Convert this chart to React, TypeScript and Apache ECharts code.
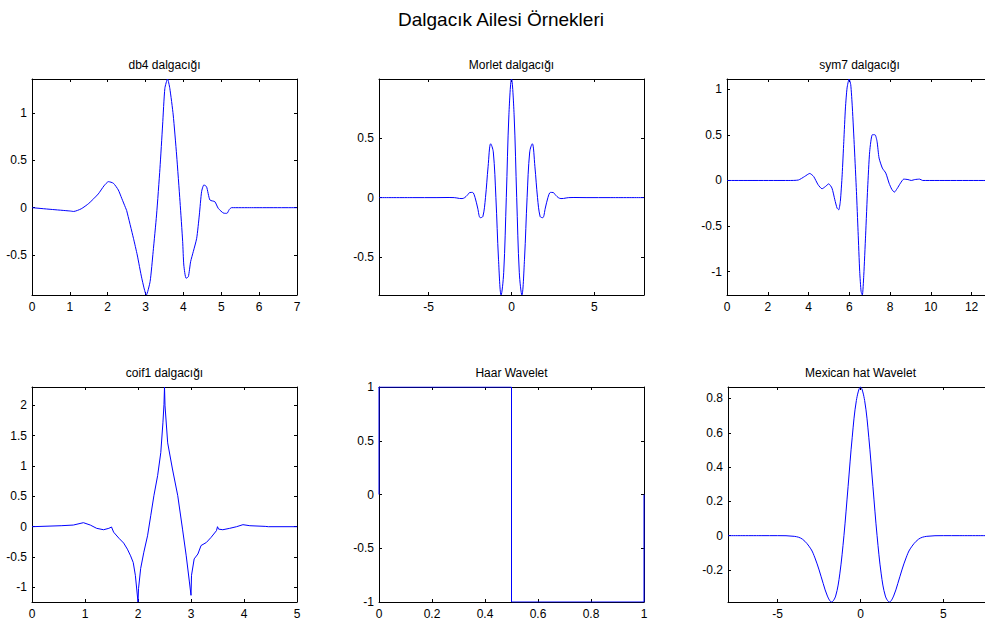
import React, { useEffect, useRef } from "react";
import * as echarts from "echarts";

const FONT = '"Liberation Sans", Arial, Helvetica, sans-serif';

// ---------- data ----------
const mainTitle = "Dalgacık Ailesi Örnekleri";

const db4Title = "db4 dalgacığı";
const db4X = [0, 0.5, 1.0, 1.1, 1.3, 1.5, 1.75, 1.9, 2.02, 2.15, 2.28, 2.37, 2.47, 2.5, 2.68, 2.78, 2.9, 3.02, 3.12, 3.2, 3.29, 3.38, 3.45, 3.51, 3.58, 3.64, 3.73, 3.82, 3.91, 3.98, 4.01, 4.07, 4.13, 4.19, 4.26, 4.35, 4.42, 4.48, 4.54, 4.61, 4.7, 4.83, 4.92, 5.07, 5.15, 5.21, 5.27, 5.8, 7.0];
const db4Y = [0, -0.018, -0.035, -0.04, -0.012, 0.045, 0.145, 0.23, 0.275, 0.258, 0.187, 0.099, 0, -0.03, -0.324, -0.5, -0.746, -0.923, -0.78, -0.465, -0.077, 0.416, 0.874, 1.262, 1.36, 1.262, 0.98, 0.557, 0.063, -0.359, -0.606, -0.746, -0.729, -0.571, -0.465, -0.324, -0.077, 0.169, 0.24, 0.222, 0.081, 0.063, -0.007, -0.059, -0.06, -0.02, 0, 0, 0];
const db4XTicks = [0, 1, 2, 3, 4, 5, 6, 7];
const db4YTicks = [-0.5, 0, 0.5, 1];

const morletTitle = "Morlet dalgacığı";
const morletX = [-8, -6, -4.5, -3.77, -3.456, -3.299, -3.142, -2.985, -2.827, -2.67, -2.513, -2.356, -2.199, -2.042, -1.885, -1.728, -1.571, -1.414, -1.257, -1.1, -0.942, -0.785, -0.628, -0.471, -0.314, -0.157, 0, 0.157, 0.314, 0.471, 0.628, 0.785, 0.942, 1.1, 1.257, 1.414, 1.571, 1.728, 1.885, 2.042, 2.199, 2.356, 2.513, 2.67, 2.827, 2.985, 3.142, 3.299, 3.456, 3.77, 4.5, 6, 8];
const morletY = [0, 0, 0, 0.001, 0, -0.003, -0.007, -0.008, 0, 0.02, 0.043, 0.044, 0, -0.088, -0.169, -0.159, 0, 0.26, 0.454, 0.386, 0, -0.519, -0.821, -0.633, 0, 0.698, 1, 0.698, 0, -0.633, -0.821, -0.519, 0, 0.386, 0.454, 0.26, 0, -0.159, -0.169, -0.088, 0, 0.044, 0.043, 0.02, 0, -0.008, -0.007, -0.003, 0, 0.001, 0, 0, 0];
const morletXTicks = [-5, 0, 5];
const morletYTicks = [-0.5, 0, 0.5];

const sym7Title = "sym7 dalgacığı";
const sym7X = [0, 3.0, 3.5, 3.81, 4.06, 4.25, 4.47, 4.66, 4.83, 4.99, 5.15, 5.29, 5.4, 5.48, 5.56, 5.65, 5.73, 5.81, 5.89, 5.99, 6.07, 6.15, 6.25, 6.35, 6.43, 6.51, 6.58, 6.64, 6.71, 6.8, 6.9, 7.0, 7.13, 7.26, 7.36, 7.46, 7.62, 7.79, 7.95, 8.08, 8.21, 8.34, 8.51, 8.67, 8.88, 9.04, 9.21, 9.45, 9.6, 13];
const sym7Y = [0, 0, 0.005, 0.044, 0.077, 0.044, -0.047, -0.091, -0.066, -0.037, -0.084, -0.212, -0.303, -0.322, -0.23, 0.063, 0.429, 0.795, 1.015, 1.113, 1.051, 0.795, 0.356, -0.121, -0.56, -1.0, -1.22, -1.256, -1.04, -0.6, -0.084, 0.319, 0.502, 0.502, 0.429, 0.246, 0.136, 0.081, -0.029, -0.095, -0.128, -0.091, -0.029, 0.015, 0.01, 0, 0.01, 0.015, 0, 0];
const sym7XTicks = [0, 2, 4, 6, 8, 10, 12];
const sym7YTicks = [-1, -0.5, 0, 0.5, 1];

const coif1Title = "coif1 dalgacığı";
const coif1X = [0, 0.55, 0.78, 0.97, 1.1, 1.22, 1.35, 1.45, 1.5, 1.54, 1.64, 1.73, 1.8, 1.86, 1.91, 1.95, 2.0, 2.01, 2.05, 2.11, 2.18, 2.24, 2.3, 2.37, 2.43, 2.47, 2.49, 2.5, 2.51, 2.56, 2.65, 2.75, 2.84, 2.91, 2.97, 3.0, 3.01, 3.06, 3.13, 3.19, 3.29, 3.38, 3.48, 3.5, 3.52, 3.6, 3.73, 3.86, 3.98, 4.11, 4.4, 4.46, 5];
const coif1Y = [0, 0.016, 0.027, 0.066, 0.027, -0.027, -0.05, -0.027, -0.005, -0.09, -0.19, -0.27, -0.37, -0.48, -0.59, -0.8, -1.24, -1.02, -0.69, -0.42, -0.15, 0.18, 0.51, 0.84, 1.22, 1.71, 2.01, 2.3, 1.99, 1.38, 0.95, 0.51, -0.04, -0.48, -0.91, -1.13, -0.8, -0.53, -0.45, -0.31, -0.26, -0.175, -0.066, 0, -0.04, -0.05, -0.027, 0, 0.033, 0.016, 0.005, 0, 0];
const coif1XTicks = [0, 1, 2, 3, 4, 5];
const coif1YTicks = [-1, -0.5, 0, 0.5, 1, 1.5, 2];

const haarTitle = "Haar Wavelet";
const haarX = [0, 0, 0.5, 0.5, 1, 1];
const haarY = [0, 1, 1, -1, -1, 0];
const haarXTicks = [0, 0.2, 0.4, 0.6, 0.8, 1];
const haarYTicks = [-1, -0.5, 0, 0.5, 1];

const mexhTitle = "Mexican hat Wavelet";
const mexhX = [-8, -6, -5, -4, -3.5, -3, -2.75, -2.5, -2.25, -2, -1.75, -1.5, -1.25, -1, -0.75, -0.5, -0.25, 0, 0.25, 0.5, 0.75, 1, 1.25, 1.5, 1.75, 2, 2.25, 2.5, 2.75, 3, 3.5, 4, 5, 6, 8];
const mexhY = [0, 0, 0, -0.004, -0.021, -0.077, -0.13, -0.2, -0.28, -0.352, -0.387, -0.352, -0.223, 0, 0.286, 0.574, 0.788, 0.867, 0.788, 0.574, 0.286, 0, -0.223, -0.352, -0.387, -0.352, -0.28, -0.2, -0.13, -0.077, -0.021, -0.004, 0, 0, 0];
const mexhXTicks = [-5, 0, 5];
const mexhYTicks = [-0.2, 0, 0.2, 0.4, 0.6, 0.8];

// ---------- layout ----------
type Panel = {
  title: string;
  xs: number[];
  ys: number[];
  xMin: number;
  xMax: number;
  yMin: number;
  yMax: number;
  xTicks: number[];
  yTicks: number[];
  left: number;
  top: number;
  width: number;
  height: number;
  smooth: number | boolean;
};

const panels: Panel[] = [
  { title: db4Title, xs: db4X, ys: db4Y, xMin: 0, xMax: 7, yMin: -0.923, yMax: 1.36, xTicks: db4XTicks, yTicks: db4YTicks, left: 32, top: 79, width: 265, height: 216, smooth: 0.2 },
  { title: morletTitle, xs: morletX, ys: morletY, xMin: -8, xMax: 8, yMin: -0.821, yMax: 1.0, xTicks: morletXTicks, yTicks: morletYTicks, left: 379, top: 79, width: 265, height: 216, smooth: 0.35 },
  { title: sym7Title, xs: sym7X, ys: sym7Y, xMin: 0, xMax: 13, yMin: -1.256, yMax: 1.113, xTicks: sym7XTicks, yTicks: sym7YTicks, left: 727, top: 79, width: 265, height: 216, smooth: 0.2 },
  { title: coif1Title, xs: coif1X, ys: coif1Y, xMin: 0, xMax: 5, yMin: -1.24, yMax: 2.3, xTicks: coif1XTicks, yTicks: coif1YTicks, left: 32, top: 387, width: 265, height: 215, smooth: false },
  { title: haarTitle, xs: haarX, ys: haarY, xMin: 0, xMax: 1, yMin: -1, yMax: 1, xTicks: haarXTicks, yTicks: haarYTicks, left: 379, top: 387, width: 265, height: 215, smooth: false },
  { title: mexhTitle, xs: mexhX, ys: mexhY, xMin: -8, xMax: 8, yMin: -0.387, yMax: 0.867, xTicks: mexhXTicks, yTicks: mexhYTicks, left: 728, top: 387, width: 265, height: 215, smooth: 0.35 },
];

function buildOption() {
  const grid: any[] = [];
  const xAxis: any[] = [];
  const yAxis: any[] = [];
  const series: any[] = [];
  const graphic: any[] = [];

  const lineStyle = { color: "#000", width: 1 };
  const labelStyle = { color: "#000", fontSize: 12, fontFamily: FONT };
  const fmt = (v: number) => String(v);

  graphic.push({
    type: "text",
    x: 501,
    y: 19,
    style: { text: mainTitle, fill: "#000", font: `19px ${FONT}`, align: "center", verticalAlign: "middle" },
  });

  panels.forEach((p, i) => {
    grid.push({ left: p.left, top: p.top, width: p.width, height: p.height, containLabel: false, outerBoundsMode: "none", show: false });

    const xBase = { type: "value", gridIndex: i, min: p.xMin, max: p.xMax, splitLine: { show: false } };
    const yBase = { type: "value", gridIndex: i, min: p.yMin, max: p.yMax, splitLine: { show: false } };

    xAxis.push({
      ...xBase,
      position: "bottom",
      axisLine: { show: true, onZero: false, lineStyle },
      axisTick: { show: true, inside: true, length: 3, lineStyle, customValues: p.xTicks },
      axisLabel: { show: true, margin: 6, customValues: p.xTicks, formatter: fmt, ...labelStyle },
    });
    xAxis.push({
      ...xBase,
      position: "top",
      axisLine: { show: true, onZero: false, lineStyle },
      axisTick: { show: true, inside: true, length: 3, lineStyle, customValues: p.xTicks },
      axisLabel: { show: false },
    });
    yAxis.push({
      ...yBase,
      position: "left",
      axisLine: { show: true, onZero: false, lineStyle },
      axisTick: { show: true, inside: true, length: 3, lineStyle, customValues: p.yTicks },
      axisLabel: { show: true, margin: 5, customValues: p.yTicks, formatter: fmt, ...labelStyle },
    });
    yAxis.push({
      ...yBase,
      position: "right",
      axisLine: { show: true, onZero: false, lineStyle },
      axisTick: { show: true, inside: true, length: 3, lineStyle, customValues: p.yTicks },
      axisLabel: { show: false },
    });

    series.push({
      type: "line",
      xAxisIndex: 2 * i,
      yAxisIndex: 2 * i,
      data: p.xs.map((x, k) => [x, p.ys[k]]),
      showSymbol: false,
      symbol: "none",
      smooth: p.smooth,
      clip: true,
      silent: true,
      lineStyle: { color: "#0000ff", width: 1 },
    });

    graphic.push({
      type: "text",
      x: p.left + p.width / 2,
      y: p.top - 14,
      style: { text: p.title, fill: "#000", font: `12px ${FONT}`, align: "center", verticalAlign: "middle" },
    });
  });

  return {
    animation: false,
    backgroundColor: "#ffffff",
    grid,
    xAxis,
    yAxis,
    series,
    graphic,
  };
}

export default function App() {
  const ref = useRef<HTMLDivElement>(null);
  useEffect(() => {
    if (!ref.current) return;
    const chart = echarts.init(ref.current, undefined, { renderer: "svg" });
    chart.setOption(buildOption() as any);
    return () => chart.dispose();
  }, []);
  return (
    <div
      ref={ref}
      style={{ position: "absolute", left: 0, top: 0, width: 985, height: 624, background: "#fff" }}
    />
  );
}
